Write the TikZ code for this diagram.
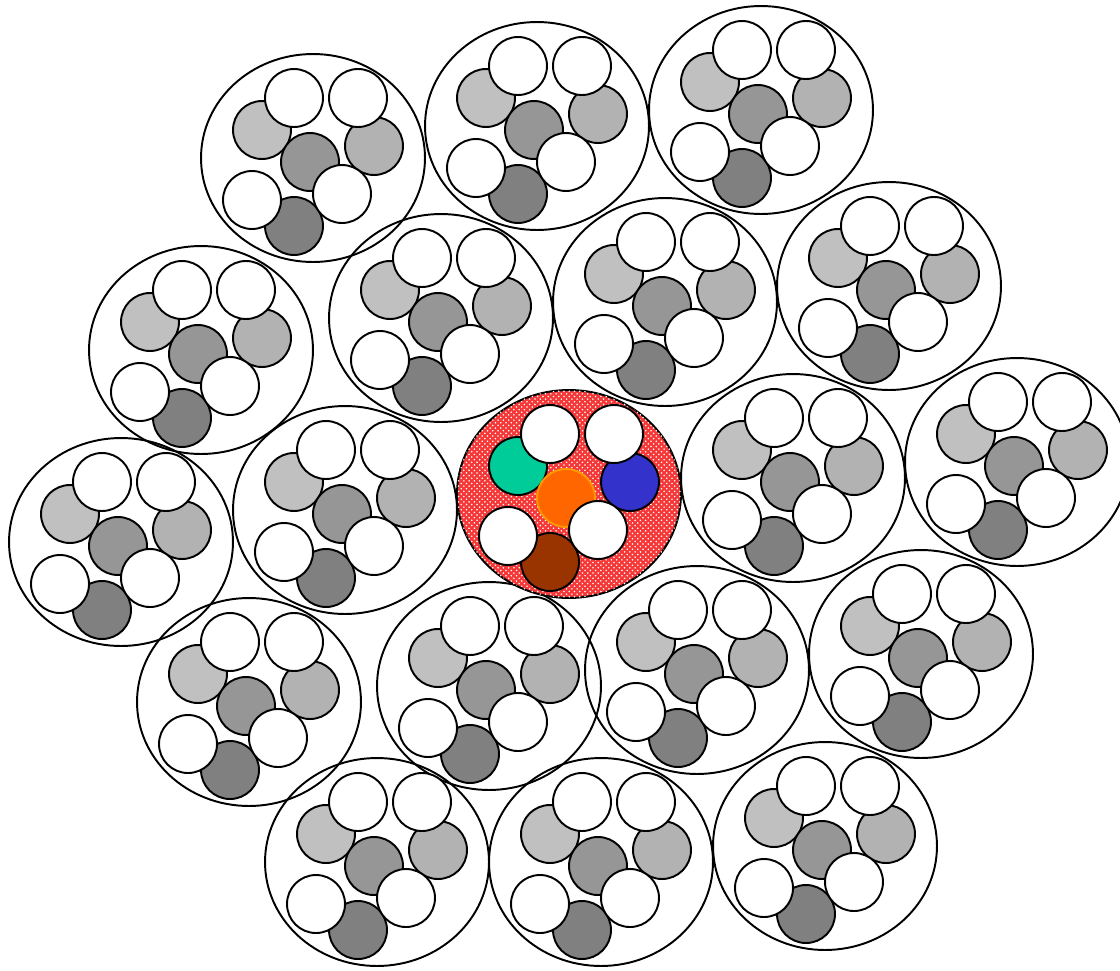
\documentclass[tikz,border=0pt]{standalone}
\usetikzlibrary{shapes.geometric, patterns}
\definecolor{wirelight}{RGB}{192, 192, 192}
\definecolor{wireside}{RGB}{178, 178, 178}
\definecolor{wiremid}{RGB}{150, 150, 150}
\definecolor{wiredark}{RGB}{128, 128, 128}
\definecolor{coreteal}{RGB}{0, 204, 153}
\definecolor{coreblue}{RGB}{51, 51, 204}
\definecolor{coreorange}{RGB}{255, 102, 0}
\definecolor{coreedge}{RGB}{255, 153, 0}
\definecolor{corebrown}{RGB}{153, 51, 0}
\definecolor{corered}{RGB}{245, 55, 55}

\begin{document}
\begin{tikzpicture}[
  x=0.02cm, y=-0.02cm,
  bundle/.style={ellipse, draw, line width=1.1pt, minimum width=4.48cm,
              minimum height=4.16cm, inner sep=0pt},
  wire/.style={circle, draw, line width=1.1pt, minimum size=1.16cm,
              inner sep=0pt, fill=#1},
  wire/.default=white,
]
  \useasboundingbox (0,0) rectangle (1120,971);

  % outer bundles
  \foreach \name/\cx/\cy in {b1/313/158, b2/537/126, b3/761/110,
      b4/201/350, b5/441/318, b6/665/302, b7/889/286,
      b8/121/542, b9/345/510, b11/793/478, b12/1017/462,
      b13/249/702, b14/489/686, b15/697/670, b16/921/654,
      b17/377/862, b18/601/862, b19/825/846} {
    \node[bundle] (\name) at (\cx,\cy) {};
    \begin{scope}[shift={(\cx,\cy)}]
      \node[wire=wirelight] (\name-l) at (-51,-28) {};
      \node[wire=wireside] (\name-r) at (61,-12) {};
      \node[wire=wiremid] (\name-m) at (-3,4) {};
      \node[wire=wiredark] (\name-d) at (-19,68) {};
      \node[wire] (\name-w1) at (-19,-60) {};
      \node[wire] (\name-w2) at (45,-60) {};
      \node[wire] (\name-w3) at (-61,42) {};
      \node[wire] (\name-w4) at (29,36) {};
    \end{scope}
  }

  % core bundle
  \node[bundle, fill=corered, postaction={pattern=crosshatch dots, pattern color=white}] (b10) at (569,494) {};
  \begin{scope}[shift={(569,494)}]
    \node[wire=coreteal] (b10-l) at (-51,-28) {};
    \node[wire=coreblue] (b10-r) at (61,-12) {};
    \node[wire=coreorange, draw=coreedge] (b10-m) at (-3,4) {};
    \node[wire=corebrown] (b10-d) at (-19,68) {};
    \node[wire] (b10-w1) at (-19,-60) {};
    \node[wire] (b10-w2) at (45,-60) {};
    \node[wire] (b10-w3) at (-61,42) {};
    \node[wire] (b10-w4) at (29,36) {};
  \end{scope}
\end{tikzpicture}
\end{document}
